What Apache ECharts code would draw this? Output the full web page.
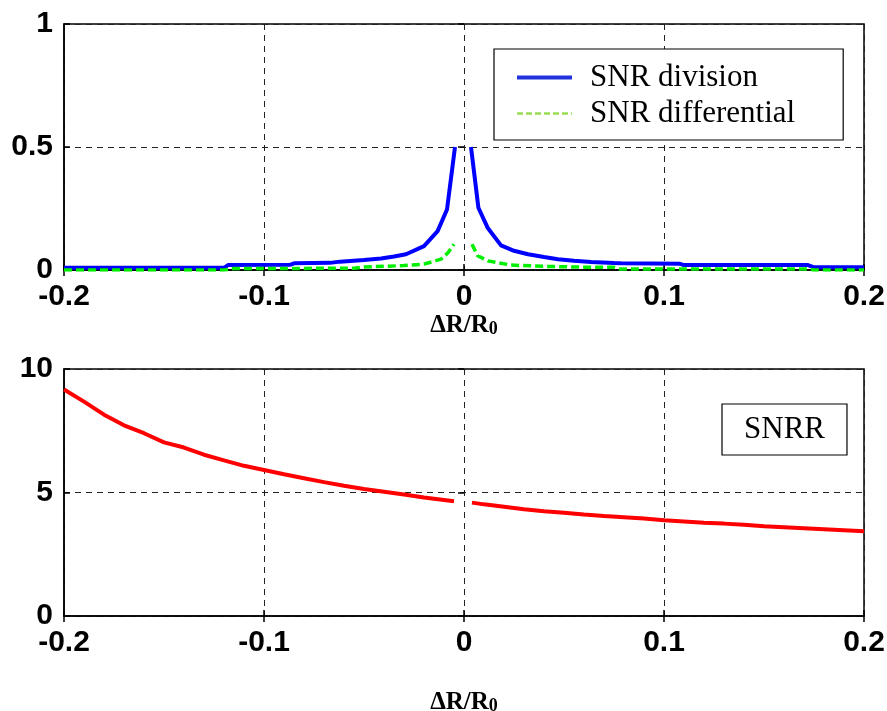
<!DOCTYPE html>
<html>
<head>
<meta charset="utf-8">
<title>SNR vs ΔR/R0</title>
<script src="https://cdn.jsdelivr.net/npm/echarts@6/dist/echarts.min.js"></script>
<style>
  html, body { margin: 0; padding: 0; background: #ffffff; }
  #chart { width: 887px; height: 711px; }
</style>
</head>
<body>
<div id="chart"></div>
<script>
// ---- data ----
// upper panel: SNR of the division and differential schemes vs ΔR/R0
const divX = [-0.2, -0.12, -0.118, -0.087, -0.085, -0.067, -0.062, -0.05, -0.0415, -0.035, -0.029, -0.02, -0.0132, -0.0085, -0.0045, 0,
              0.0035, 0.0072, 0.0118, 0.0185, 0.025, 0.032, 0.04, 0.047, 0.055, 0.0635, 0.075, 0.0785, 0.108, 0.11, 0.172, 0.175, 0.2];
const divY = [0.009, 0.009, 0.02, 0.021, 0.027, 0.029, 0.034, 0.041, 0.047, 0.055, 0.064, 0.097, 0.158, 0.246, 0.5, null,
              0.5, 0.253, 0.172, 0.10, 0.078, 0.064, 0.053, 0.044, 0.038, 0.033, 0.028, 0.027, 0.025, 0.02, 0.02, 0.011, 0.011];

const difX = [-0.2, -0.12, -0.115, -0.055, -0.05, -0.04, -0.03, -0.02, -0.0115, -0.008, -0.005, 0,
              0.004, 0.0068, 0.012, 0.0235, 0.04, 0.05, 0.0635, 0.075, 0.078, 0.172, 0.175, 0.2];
const difY = [0.0, 0.0, 0.006, 0.007, 0.012, 0.015, 0.018, 0.024, 0.044, 0.07, 0.105, null,
              0.105, 0.058, 0.037, 0.02, 0.015, 0.013, 0.011, 0.011, 0.004, 0.004, 0.0, 0.0];

// lower panel: SNR ratio
const snrrX = [-0.2, -0.19, -0.18, -0.17, -0.16, -0.15, -0.14, -0.13, -0.12, -0.11, -0.1, -0.09, -0.08, -0.07, -0.06,
               -0.05, -0.04, -0.03, -0.02, -0.01, -0.005, 0,
               0.004, 0.01, 0.02, 0.03, 0.04, 0.05, 0.06, 0.07, 0.08, 0.09, 0.1, 0.11, 0.12, 0.13, 0.14, 0.15,
               0.16, 0.17, 0.18, 0.19, 0.2];
const snrrY = [9.17, 8.68, 8.15, 7.72, 7.40, 7.03, 6.82, 6.53, 6.30, 6.08, 5.91, 5.74, 5.58, 5.42, 5.27,
               5.14, 5.03, 4.92, 4.80, 4.70, 4.65, null,
               4.59, 4.52, 4.42, 4.32, 4.24, 4.18, 4.11, 4.05, 4.00, 3.95, 3.88, 3.83, 3.78, 3.74, 3.69, 3.63,
               3.59, 3.55, 3.51, 3.47, 3.43];

// tick labels
const xTickLabels = ['-0.2', '-0.1', '0', '0.1', '0.2'];
const yTopTicks = ['0', '0.5', '1'];
const yBottomTicks = ['0', '5', '10'];

const pairs = (xs, ys) => xs.map((x, i) => [x, ys[i]]);

// ---- styling helpers ----
const tickFont = { fontFamily: 'Liberation Sans, Arial, sans-serif', fontWeight: 'bold', fontSize: 30, color: '#000' };
const serif = 'Liberation Serif, Times New Roman, serif';
const gridDash = { type: [6, 5], color: '#222', width: 1 };
const tickStyle = { show: true, inside: true, length: 6, lineStyle: { color: '#000', width: 1.5 } };
const hiddenMarker = { opacity: 0, borderWidth: 0 };

function xAxisMain(gridIndex, nameGap) {
  return {
    type: 'value', gridIndex, min: -0.2, max: 0.2, interval: 0.1,
    name: '{a|ΔR/R}{b|0}', nameLocation: 'middle', nameGap,
    nameTextStyle: {
      rich: {
        a: { fontFamily: serif, fontWeight: 'bold', fontSize: 25, color: '#000' },
        b: { fontFamily: serif, fontWeight: 'bold', fontSize: 18, color: '#000', verticalAlign: 'bottom' }
      }
    },
    axisLine: { show: true, onZero: false, lineStyle: { color: '#000', width: 1.5 } },
    axisTick: tickStyle,
    axisLabel: { ...tickFont, margin: 12,
      formatter: v => xTickLabels[Math.round((v + 0.2) / 0.1)] },
    splitLine: { show: true, lineStyle: gridDash }
  };
}
function xAxisTop(gridIndex) {
  return {
    type: 'value', gridIndex, position: 'top', min: -0.2, max: 0.2, interval: 0.1,
    axisLine: { show: false }, axisTick: tickStyle,
    axisLabel: { show: false }, splitLine: { show: false }
  };
}
function yAxisMain(gridIndex, max, interval, labels) {
  return {
    type: 'value', gridIndex, min: 0, max, interval,
    axisLine: { show: true, onZero: false, lineStyle: { color: '#000', width: 1.5 } },
    axisTick: tickStyle,
    axisLabel: { ...tickFont, margin: 11, formatter: v => labels[Math.round(v / interval)] },
    splitLine: { show: true, lineStyle: gridDash }
  };
}
function yAxisRight(gridIndex, max, interval) {
  return {
    type: 'value', gridIndex, position: 'right', min: 0, max, interval,
    axisLine: { show: false }, axisTick: tickStyle,
    axisLabel: { show: false }, splitLine: { show: false }
  };
}

const chart = echarts.init(document.getElementById('chart'), null, { renderer: 'canvas' });

chart.setOption({
  backgroundColor: '#ffffff',
  animation: false,
  grid: [
    { left: 64, top: 24, width: 800, height: 246, outerBoundsMode: 'none',
      show: true, borderColor: '#000', borderWidth: 1.5 },
    { left: 64, top: 369, width: 800, height: 247, outerBoundsMode: 'none',
      show: true, borderColor: '#000', borderWidth: 1.5 }
  ],
  xAxis: [xAxisMain(0, 35), xAxisTop(0), xAxisMain(1, 74), xAxisTop(1)],
  yAxis: [yAxisMain(0, 1, 0.5, yTopTicks), yAxisRight(0, 1, 0.5),
          yAxisMain(1, 10, 5, yBottomTicks), yAxisRight(1, 10, 5)],
  legend: [
    {
      id: 'snrLegend',
      orient: 'vertical', left: 494, top: 49,
      padding: [13, 48, 11, 21], itemGap: 5, itemWidth: 55, itemHeight: 14,
      backgroundColor: '#fff', borderColor: '#000', borderWidth: 1.2,
      textStyle: { fontFamily: serif, fontSize: 31, color: '#000', padding: [0, 0, 0, 13] },
      data: [
        { name: 'SNR division', itemStyle: hiddenMarker,
          lineStyle: { color: '#2233dd', width: 4, opacity: 1 } },
        { name: 'SNR differential', itemStyle: hiddenMarker,
          lineStyle: { color: '#99dd55', width: 2.5, type: [6, 3], opacity: 1 } }
      ]
    },
    {
      id: 'ratioLegend',
      left: 722, top: 404,
      padding: [10, 22, 10, 17], itemWidth: 0, itemHeight: 0,
      backgroundColor: '#fff', borderColor: '#000', borderWidth: 1.2,
      textStyle: { fontFamily: serif, fontSize: 31, color: '#000' },
      data: [{ name: 'SNRR', icon: 'none' }]
    }
  ],
  series: [
    {
      name: 'SNR division', type: 'line', xAxisIndex: 0, yAxisIndex: 0,
      data: pairs(divX, divY), showSymbol: false, symbol: 'none', connectNulls: false,
      lineStyle: { color: '#0000ff', width: 4 }, itemStyle: { color: '#0000ff' }, z: 3
    },
    {
      name: 'SNR differential', type: 'line', xAxisIndex: 0, yAxisIndex: 0,
      data: pairs(difX, difY), showSymbol: false, symbol: 'none', connectNulls: false,
      lineStyle: { color: '#00ee00', width: 3.5, type: [8, 4] }, itemStyle: { color: '#00ee00' }, z: 4
    },
    {
      name: 'SNRR', type: 'line', xAxisIndex: 2, yAxisIndex: 2,
      data: pairs(snrrX, snrrY), showSymbol: false, symbol: 'none', connectNulls: false,
      lineStyle: { color: '#ff0000', width: 4 }, itemStyle: { color: '#ff0000' }, z: 3
    }
  ]
});
</script>
</body>
</html>
